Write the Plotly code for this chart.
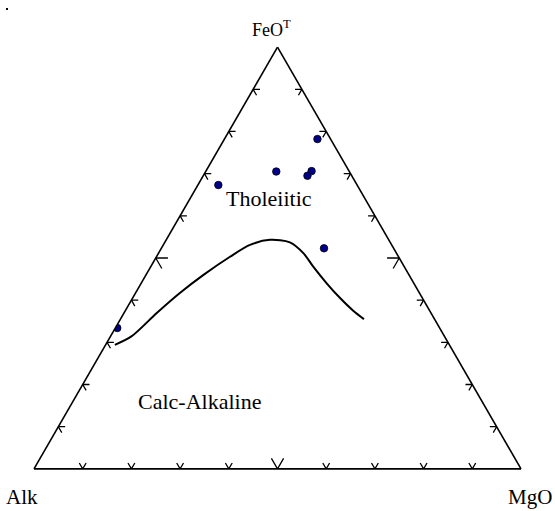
import plotly.graph_objects as go

# Sample points (ternary fractions): FeO^T (a, top), Alk (b, bottom-left), MgO (c, bottom-right)
pt_feo = [0.782, 0.705, 0.706, 0.695, 0.673, 0.523, 0.334]
pt_alk = [0.027, 0.150, 0.077, 0.091, 0.285, 0.143, 0.662]
pt_mgo = [0.191, 0.145, 0.217, 0.214, 0.042, 0.334, 0.004]

# Tholeiitic / Calc-alkaline boundary
cv_feo = [0.294, 0.314, 0.369, 0.417, 0.460, 0.503, 0.531, 0.543, 0.537, 0.511, 0.480, 0.440, 0.405, 0.375, 0.355]
cv_alk = [0.687, 0.643, 0.564, 0.492, 0.422, 0.346, 0.291, 0.244, 0.206, 0.191, 0.187, 0.179, 0.169, 0.157, 0.145]
cv_mgo = [0.019, 0.043, 0.067, 0.091, 0.118, 0.151, 0.178, 0.213, 0.257, 0.298, 0.333, 0.381, 0.426, 0.468, 0.500]

tick_fracs = [0.1, 0.2, 0.3, 0.4, 0.5, 0.6, 0.7, 0.8, 0.9]
arm_small = 0.014
arm_big = 0.025

fig = go.Figure()

# chevron ticks built from the tick fractions
ta, tb, tc = [], [], []
for t in tick_fracs:
    L = arm_big if abs(t - 0.5) < 1e-9 else arm_small
    # bottom edge (FeO = 0), position t measured toward MgO
    ta += [L, 0, L, None]
    tb += [1 - t - L, 1 - t, 1 - t, None]
    tc += [t, t, t - L, None]
    # left edge (MgO = 0), FeO = t
    ta += [t, t, t - L, None]
    tb += [1 - t - L, 1 - t, 1 - t, None]
    tc += [L, 0, L, None]
    # right edge (Alk = 0), FeO = t
    ta += [t, t, t - L, None]
    tb += [L, 0, L, None]
    tc += [1 - t - L, 1 - t, 1 - t, None]

fig.add_trace(go.Scatterternary(a=ta, b=tb, c=tc, mode="lines",
                                line=dict(color="black", width=1.3),
                                hoverinfo="skip", showlegend=False, connectgaps=False))

fig.add_trace(go.Scatterternary(a=cv_feo, b=cv_alk, c=cv_mgo, mode="lines",
                                line=dict(color="black", width=2, shape="spline", smoothing=0.8),
                                showlegend=False))

fig.add_trace(go.Scatterternary(a=pt_feo, b=pt_alk, c=pt_mgo, mode="markers",
                                marker=dict(size=7.5, color="#00008B",
                                            line=dict(color="black", width=0.8)),
                                showlegend=False))

axis_common = dict(showticklabels=False, ticks="", showgrid=False, showline=True,
                   linecolor="black", linewidth=1.6, min=0, title=dict(text=""))

fig.update_layout(
    width=555, height=511,
    margin=dict(l=34, r=34, t=47, b=42),
    paper_bgcolor="white",
    ternary=dict(sum=1, bgcolor="white",
                 domain=dict(x=[0, 1], y=[0, 1]),
                 aaxis=axis_common, baxis=axis_common, caxis=axis_common),
    font=dict(family="Liberation Serif", color="black"),
)

lab = dict(showarrow=False, xref="paper", yref="paper", xanchor="center", yanchor="middle")
fig.add_annotation(text="FeO<sup>T</sup>", x=0.4867, y=1.045,
                   font=dict(family="Liberation Serif", size=18, color="black"), **lab)
fig.add_annotation(text="Alk", x=-0.0246, y=-0.066,
                   font=dict(family="Liberation Serif", size=21, color="black"), **lab)
fig.add_annotation(text="MgO", x=1.0185, y=-0.066,
                   font=dict(family="Liberation Serif", size=21, color="black"), **lab)
fig.add_annotation(text="Tholeiitic", x=0.4825, y=0.64,
                   font=dict(family="Liberation Serif", size=22, color="black"), **lab)
fig.add_annotation(text="Calc-Alkaline", x=0.339, y=0.159,
                   font=dict(family="Liberation Serif", size=22, color="black"), **lab)

# small mark at the top-left corner of the reference
fig.add_shape(type="rect", xref="paper", yref="paper",
              x0=(6 - 34) / 487, x1=(8 - 34) / 487, y0=(469 - 10) / 422, y1=(469 - 8) / 422,
              fillcolor="black", line=dict(width=0))

fig.write_html("out.html")
